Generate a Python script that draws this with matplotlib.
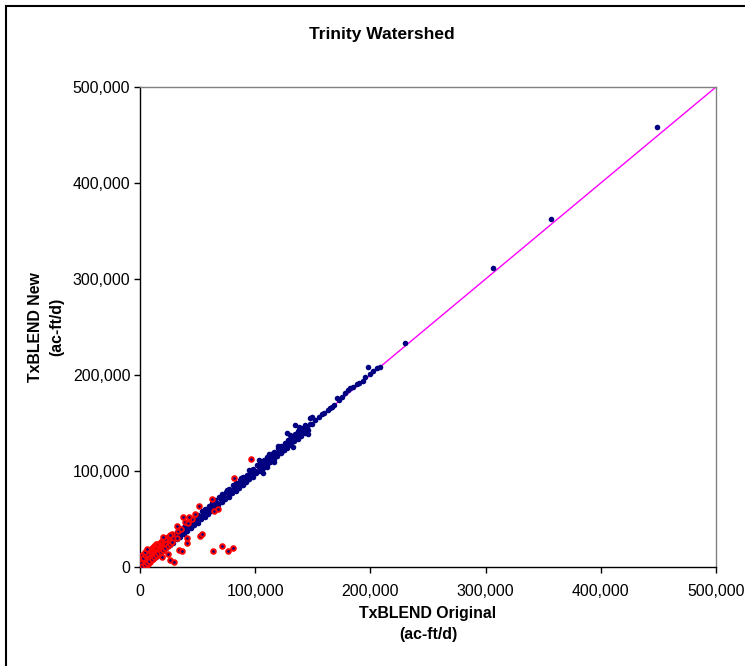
import matplotlib
matplotlib.use("Agg")
from matplotlib import pyplot as plt
from matplotlib.patches import Rectangle
from matplotlib.ticker import FuncFormatter

plt.rcParams['font.family'] = ['Liberation Sans', 'DejaVu Sans']

# values in thousands of ac-ft/d
band_mid_x = [1, 4, 7, 10, 13, 16, 19, 22, 25, 28, 31, 34, 37, 40, 43, 46, 49, 52, 55, 58,
              61, 64, 67, 70, 73, 76, 79, 82, 85, 88, 91, 94, 97, 100, 103, 106, 109, 112, 115, 118,
              121, 124, 127, 130, 133, 136, 139, 142, 145, 148]
band_mid_y = [1.4, 4.6, 7.3, 10.8, 13.5, 16.9, 19.4, 22.8, 25.6, 28.3, 31.9, 34.5, 37.2, 40.8, 43.6, 46.3, 49.9, 52.4, 55.7, 58.2,
              61.8, 64.5, 67.1, 70.9, 73.3, 76.6, 79.2, 82.8, 85.4, 88.1, 91.7, 94.3, 97.6, 100.2, 103.8, 106.5, 109.1, 112.7, 115.3, 118.4,
              121.9, 124.2, 127.6, 130.3, 133.8, 136.1, 139.5, 142.7, 145.2, 148.6]

band_up_x = [2.5, 5.5, 8.5, 11.5, 14.5, 17.5, 20.5, 23.5, 26.5, 29.5, 32.5, 35.5, 38.5, 41.5, 44.5, 47.5,
             50.5, 53.5, 56.5, 59.5, 62.5, 65.5, 68.5, 71.5, 74.5, 77.5, 80.5, 83.5, 86.5, 89.5, 92.5, 95.5,
             98.5, 101.5, 104.5, 107.5, 110.5, 113.5, 116.5, 119.5, 122.5, 125.5, 128.5, 131.5, 134.5, 137.5, 140.5, 143.5]
band_up_y = [5.2, 8.9, 11.7, 15.4, 18.1, 21.8, 24.3, 27.9, 30.6, 33.2, 36.8, 39.5, 42.1, 45.9, 48.4, 51.7,
             54.3, 57.9, 60.5, 63.8, 66.2, 69.9, 72.4, 75.8, 78.3, 81.6, 84.9, 87.2, 90.8, 93.5, 96.1, 99.7,
             102.4, 105.8, 108.3, 111.9, 114.2, 117.6, 120.3, 123.8, 126.4, 129.1, 132.7, 135.4, 138.2, 141.9, 144.3, 147.8]

band_lo_x = [2, 5, 8, 11, 14, 17, 20, 23, 26, 29, 32, 35, 38, 41, 44, 47, 50, 53, 56, 59,
             62, 65, 68, 71, 74, 77, 80, 83, 86, 89, 92, 95, 98, 101, 104, 107, 110, 113, 116, 119,
             122, 125, 128, 131, 134, 137, 140, 143, 146]
band_lo_y = [0.4, 2.6, 5.1, 8.3, 10.7, 13.9, 16.4, 19.8, 22.5, 25.2, 28.7, 31.4, 34.1, 37.6, 40.3, 43.8, 46.2, 49.5, 52.1, 55.7,
             58.4, 61.2, 64.8, 67.3, 70.6, 73.1, 76.9, 79.4, 82.2, 85.8, 88.3, 91.6, 94.2, 97.7, 100.4, 103.1, 106.6, 109.2, 112.8, 115.5,
             118.3, 121.7, 124.4, 127.1, 130.8, 133.3, 136.6, 139.9, 142.5]

tail_x = [75.2, 103.3, 106.4, 116.3, 127.3, 133, 134.5, 141.8, 146, 147.6,
          149, 149, 152, 155, 157.6, 160, 163, 165, 166.3, 168,
          170.7, 173, 175, 178, 180.8, 182, 185, 188, 190, 193.8,
          195, 197.6, 200, 202.4, 205.3, 208.3, 230, 306.7, 356.5, 448.8,
          120, 125, 112, 138, 110, 95, 88, 130]
tail_y = [80.2, 111.5, 98.2, 109, 139.9, 125.3, 147.9, 141, 139, 154.9,
          156, 149, 153, 156.5, 159, 160.5, 164, 165.3, 167, 169,
          176.4, 174, 177, 181, 184, 186, 187, 191, 192, 194,
          198, 208.7, 201, 204.5, 207, 208.7, 233, 311.8, 362.5, 458,
          126, 122, 118, 146, 104, 101, 93, 137]

red_x = [0.5, 1, 1.5, 2, 2.5, 3, 3.5, 4, 4.5, 5, 5.5, 6, 6.5, 7, 7.5, 8, 8.5, 9, 9.5, 10,
         10.5, 11, 12, 12.5, 13, 14, 14.5, 15, 16, 17, 18, 19, 20, 21, 22, 23, 25,
         2, 3, 1, 6, 8, 10, 12, 14, 0.5, 1.5, 3, 5, 7, 9, 11, 13, 16,
         1, 2, 3, 4, 5, 6, 7, 8, 9, 10, 11, 12, 13, 14, 15, 16, 17, 18, 19, 21, 23, 24, 22,
         3, 5, 7, 9, 11, 13, 15, 17, 19, 21, 23, 1.5, 2.5, 4, 6, 0.5,
         1, 2, 4, 6, 8, 10, 12, 14, 16, 18, 20, 22, 24, 26, 28,
         33, 28, 39, 42, 45, 48,
         4.3, 5.8, 18.8, 24.6, 26, 29.7, 20, 26, 31.8, 31.8, 36, 34, 36.1, 40.5, 40.5, 37.6,
         42.8, 52, 53.5, 51.5, 62.2, 64.2, 67.4, 63.7, 70.9, 76.7, 80.4, 82, 96]
red_y = [0.8, 2, 1, 3, 4.5, 2, 5, 6.5, 3.5, 7, 5, 9, 6.5, 10, 8, 11.5, 7.5, 12.5, 10, 14,
         11.5, 15.5, 13, 17, 14.5, 19, 16, 20.5, 18, 22, 19.5, 24, 21.5, 26, 23, 27.5, 29,
         8, 12, 5, 14, 17, 20, 22, 24, 10, 13, 0.5, 1.5, 3, 5, 8, 10, 12,
         3.5, 5.5, 6.5, 8.5, 10, 11, 12.5, 13.5, 15, 16.5, 17.5, 18.5, 20, 21, 22.5, 23.5, 25, 26, 27, 28.5, 30, 31.5, 29,
         3.5, 5.5, 7.5, 9.5, 11.5, 13, 15.5, 17.5, 19.5, 21.5, 23.5, 7, 9.5, 12, 13.5, 4,
         0.3, 1, 2.5, 4, 6, 8, 10, 12.5, 14.5, 16, 18, 20, 22, 24, 26,
         37, 34, 47, 45.5, 50, 55,
         16, 18.4, 10.8, 13.2, 7.3, 5.5, 31.6, 33.6, 30.5, 42.7, 39.6, 17.7, 17, 24.6, 30.5, 52.4,
         51.7, 32.6, 34, 63.5, 70.5, 58.3, 60.4, 17, 22.2, 17, 19.4, 92.4, 112]

ticks = [0, 100000, 200000, 300000, 400000, 500000]


def k(vals):
    return [v * 1000 for v in vals]


fig = plt.figure(figsize=(7.45, 6.66), dpi=100)
ax = fig.add_axes([140 / 745, 99 / 666, 576 / 745, 480 / 666])

navy = '#000080'
ax.plot([0, 500000], [0, 500000], color='#ff00ff', lw=1, zorder=1)
for xs, ys in [(band_lo_x, band_lo_y), (band_mid_x, band_mid_y), (band_up_x, band_up_y), (tail_x, tail_y)]:
    ax.scatter(k(xs), k(ys), s=16, color=navy, linewidths=0, zorder=2)
# red markers with a navy centre, each drawn over the previous
ax.scatter(k(red_x), k(red_y), s=11, facecolor=navy, edgecolor='#ff0000', linewidths=1.4, zorder=3)

ax.set_xlim(0, 500000)
ax.set_ylim(0, 500000)
ax.set_xticks(ticks)
ax.set_yticks(ticks)
fmt = FuncFormatter(lambda v, p: f"{int(v):,}")
ax.xaxis.set_major_formatter(fmt)
ax.yaxis.set_major_formatter(fmt)
ax.tick_params(direction='out', length=4, width=1, labelsize=11.4, color='black')
ax.tick_params(axis='x', pad=8)
ax.tick_params(axis='y', pad=3)

for side in ['left', 'bottom']:
    ax.spines[side].set_color('black')
    ax.spines[side].set_linewidth(1)
for side in ['top', 'right']:
    ax.spines[side].set_color('#808080')
    ax.spines[side].set_linewidth(1)

ax.set_xlabel("TxBLEND Original\n(ac-ft/d)", fontsize=11.4, fontweight='bold', labelpad=5, linespacing=1.5)
ax.set_ylabel("TxBLEND New\n(ac-ft/d)", fontsize=11.4, fontweight='bold', labelpad=6, linespacing=1.5)
fig.text(382 / 745, 1 - 34 / 666, "Trinity Watershed", fontsize=12.5, fontweight='bold',
         ha='center', va='center')

fig.patches.append(Rectangle((6 / 745, -0.1), 1.2, 1.1 - 6 / 666, transform=fig.transFigure,
                             fill=False, edgecolor='black', lw=1.5))

fig.savefig("out.png", dpi=100)
